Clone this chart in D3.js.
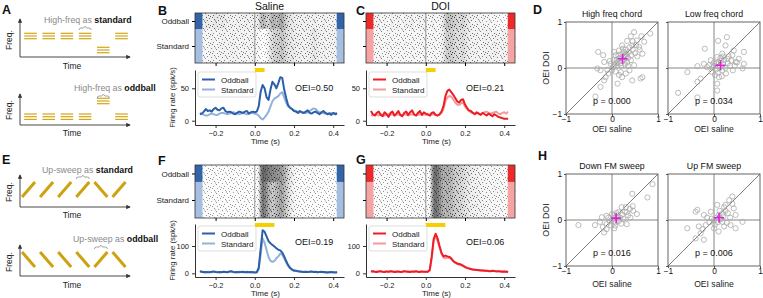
<!DOCTYPE html>
<html><head><meta charset="utf-8">
<script src="https://cdn.jsdelivr.net/npm/d3@7"></script>
<style>
body{margin:0;background:#fff;}
svg{display:block;font-family:"Liberation Sans",Arial,Helvetica,sans-serif;}
</style></head><body>
<svg id="fig" width="763" height="298"></svg>
<script>
// ---------------- DATA ----------------
const binStart = -0.28, binWidth = 0.01;   // PSTH bins (s)
const timeTicks = [-0.2, 0.0, 0.2, 0.4];
const conditions = ["Oddball", "Standard"];

// B: saline, chord
const salineChordOdd = [10,11,14,18,15,16,14,18,20,17, 16,19,20,15,13,14,13,11,10,12, 14,13,12,14,15,11,13,14, 13,
  14,22,45,55,50,36,32,48,60,56, 50,58,67,66,48,35,24,20,18,15, 14,12,15,13,12,14,16,12,11,13, 14,12,10,13,15,12,10,11,9,12,10,11];
const salineChordStd = [12,11,9,8,8,10,11,10,9,9, 11,12,12,11,10,11,12,13,12,11, 10,11,12,11,10,11,12,12, 11,
  10,8,4,2,5,9,14,22,30,34, 36,38,42,44,36,28,22,20,18,16, 15,14,13,13,12,12,13,15,17,19, 18,15,13,12,12,11,11,12,12,11,12,12];
// C: DOI, chord
const doiChordOdd = [15,10,8,12,14,9,7,13,10,6, 12,14,8,11,15,9,7,12,14,9, 13,16,10,8,12,15,9,13, 11,
  10,8,12,13,9,8,10,14,22,38, 46,48,44,40,35,30,28,32,33,25, 20,16,15,12,10,13,11,9,12,10, 8,11,9,7,10,8,6,5,4,3,3,3];
const doiChordStd = [9,8,10,9,8,10,9,8,9,10, 9,10,8,9,10,8,9,10,9,8, 9,10,9,8,9,10,9,10, 9,
  9,8,9,10,9,8,9,12,18,30, 36,38,37,33,28,25,24,27,28,22, 18,15,13,12,11,12,11,10,12,13, 14,12,11,12,13,14,11,10,12,13,11,14];
// F: saline, FM sweep
const salineSweepOdd = [8,6,4,5,4,4,6,7,5,4, 5,4,6,5,4,7,8,5,4,5, 4,5,6,4,5,4,5,4, 3,
  4,20,90,158,152,135,118,110,104,98, 92,86,84,76,62,45,30,20,14,10, 9,8,7,6,5,6,5,6,7,5, 6,4,5,6,5,4,3,4,5,4,3,4];
const salineSweepStd = [5,6,5,4,6,5,4,5,6,5, 4,5,5,6,4,5,6,5,4,5, 6,5,4,5,6,5,4,5, 4,
  4,15,70,128,112,85,60,46,42,45, 55,62,72,68,55,40,28,18,12,9, 8,7,6,6,5,6,5,5,6,5, 5,4,5,5,4,5,4,4,5,4,4,4];
// G: DOI, FM sweep
const doiSweepOdd = [7,8,6,5,7,8,6,5,7,6, 8,7,5,6,7,5,6,8,7,6, 5,7,6,8,6,5,7,6, 6,
  6,12,60,125,145,128,100,75,62,65, 62,60,55,45,40,36,34,32,28,24, 20,18,16,14,13,12,11,10,10,9, 9,8,8,9,8,7,8,7,6,7,6,5];
const doiSweepStd = [6,7,6,7,6,7,5,6,7,6, 7,6,6,7,6,6,5,7,6,7, 6,6,7,6,6,7,6,6, 6,
  6,10,55,118,135,120,95,72,58,55, 58,56,52,44,38,34,32,30,26,22, 19,17,15,14,13,12,12,11,10,10, 9,9,8,8,9,8,7,8,7,7,7,6];

// Stimulus duration (s) and OEI labels
const stimDur = {chord: 0.05, sweep: 0.1};
const oeiLabels = ["OEI=0.50", "OEI=0.21", "OEI=0.19", "OEI=0.06"];

// Scatter data: [OEI saline, OEI DOI]
const highChord = [[-0.30,0.35],[0.48,0.78],[0.83,0.75],[0.64,0.69],[0.41,0.69],[0.54,0.60],[0.33,0.59],[0.70,0.57],[0.22,0.49],[0.44,0.49],[0.59,0.46],[0.15,0.38],[0.37,0.35],[0.66,0.31],[0.08,0.28],[0.30,0.24],[0.15,0.20],[0.04,0.17],[0.41,0.17],[-0.17,0.13],[-0.03,0.09],[0.48,0.06],[0.12,0.06],[-0.32,-0.01],[-0.25,-0.05],[-0.10,-0.04],[0.19,-0.09],[0.30,-0.12],[-0.14,-0.20],[-0.17,-0.27],[0.12,-0.34],[0.44,-0.27],[0.66,-0.20],[0.62,-0.23],[-0.25,-0.41],[-0.36,-0.62],[-0.19,0.28],
  [0.20,0.30],[0.25,0.35],[0.28,0.28],[0.18,0.22],[0.22,0.15],[0.26,0.18],[0.32,0.30],[0.35,0.22],[0.12,0.12],[0.08,0.10],[0.02,0.02],[0.05,0.05],[0.10,0.18],[0.14,0.27],[0.24,0.42],[0.30,0.40],[0.38,0.45],[0.45,0.40],[0.50,0.32],[0.55,0.25],[0.42,0.28],[0.18,0.10],[0.28,0.08],[0.35,0.05],[0.00,-0.05],[0.08,-0.08],[0.15,-0.15],[0.22,-0.20],[-0.05,0.15],[0.05,0.35],[0.45,0.58],[0.52,0.50],[0.60,0.40],[0.20,0.05],[0.33,0.12],[0.26,0.25],[-0.08,-0.12],[0.38,-0.05]];
const lowChord = [[0.28,0.67],[0.09,0.59],[0.25,0.49],[-0.20,0.42],[0.43,0.38],[0.65,0.35],[0.18,0.31],[0.40,0.28],[0.07,0.24],[0.29,0.20],[0.54,0.20],[-0.07,0.17],[0.47,0.13],[0.65,0.09],[-0.36,0.04],[-0.22,0.09],[-0.11,0.06],[-0.58,-0.09],[0.62,-0.01],[0.41,-0.05],[0.26,-0.12],[0.11,-0.20],[-0.29,-0.23],[-0.36,-0.30],[0.07,-0.34],[0.07,-0.49],[-0.78,-0.54],[-0.36,-0.64],
  [0.00,0.05],[0.05,0.10],[0.10,0.12],[0.15,0.15],[0.20,0.08],[0.12,0.00],[0.05,-0.03],[-0.03,0.00],[0.00,0.12],[0.22,0.18],[0.30,0.10],[0.35,0.05],[0.18,-0.05],[0.08,-0.10],[-0.05,-0.08],[0.25,0.00],[0.14,0.22],[0.32,0.25],[0.20,0.25],[-0.15,0.02],[0.45,0.05],[0.50,0.12],[0.02,-0.15],[0.17,-0.18],[0.38,0.16]];
const downSweep = [[0.88,0.78],[0.77,0.49],[0.44,0.57],[0.21,0.28],[0.39,0.24],[0.46,0.20],[0.32,0.17],[0.54,0.13],[0.14,0.17],[0.00,0.13],[-0.12,0.09],[-0.22,0.06],[0.10,0.06],[0.25,0.02],[-0.73,-0.11],[-0.37,-0.11],[-0.26,-0.04],[-0.12,-0.09],[0.07,-0.12],[0.32,-0.09],[-0.17,-0.27],[-0.12,-0.20],
  [0.05,0.05],[0.12,0.10],[0.18,0.05],[0.00,0.00],[-0.05,-0.03],[0.08,-0.05],[0.15,-0.02],[-0.08,0.05],[0.03,0.10],[0.22,0.12],[0.28,0.18],[0.35,0.10],[0.40,0.05],[-0.02,-0.12],[0.10,0.15],[-0.20,-0.15],[0.05,-0.18],[0.20,-0.08],[0.30,0.28],[0.45,0.30]];
const upSweep = [[0.40,0.51],[0.33,0.43],[0.07,0.33],[-0.36,0.22],[0.25,0.33],[0.43,0.25],[-0.22,0.11],[-0.40,0.18],[-0.07,0.18],[0.18,0.14],[0.47,0.11],[-0.58,-0.18],[-0.33,-0.14],[-0.18,-0.11],[0.36,-0.11],[0.62,-0.04],[0.47,-0.18],[0.22,-0.14],[-0.29,-0.29],[-0.40,-0.40],[-0.22,-0.43],[0.00,-0.18],
  [0.05,0.05],[0.10,0.10],[0.15,0.02],[0.00,0.00],[-0.05,0.03],[0.08,-0.05],[0.20,0.08],[0.25,0.20],[0.30,0.15],[-0.10,-0.05],[0.12,0.20],[0.35,0.05],[0.18,-0.04],[-0.15,0.05],[0.02,-0.10],[0.28,-0.06],[0.40,0.35],[0.22,0.28],[-0.25,-0.20],[0.10,-0.25]];
const scatterMeans = [[0.23,0.20],[0.14,0.06],[0.09,0.04],[0.11,0.05]];
const scatterTitles = ["High freq chord", "Low freq chord", "Down FM sweep", "Up FM sweep"];
const pValues = ["p = 0.000", "p = 0.034", "p = 0.016", "p = 0.006"];
const oeiTicks = [-1, 0, 1];

// Schematic sequences
const chordSeqStd = ["high","high","high","high","low","high"];
const chordSeqOdd = ["low","low","low","low","high","low"];
const sweepSeqStd = ["up","up","up","up","down","up"];
const sweepSeqOdd = ["down","down","down","down","up","down"];

// ---------------- DRAWING ----------------
const svg = d3.select("#fig");
const GOLD = "#d4a514";
const BLUE = {odd:"#2c5fa8", std:"#92b2dc", barOdd:"#3164a8", barStd:"#a6bfe0"};
const RED = {odd:"#ee1c24", std:"#f59a9a", barOdd:"#ec2a2a", barStd:"#f6a3a3"};
const fmt = d3.format(".1f");

const defs = svg.append("defs");
defs.append("marker").attr("id","arr").attr("viewBox","0 0 6 6").attr("refX",5).attr("refY",3)
  .attr("markerWidth",5).attr("markerHeight",5).attr("orient","auto")
  .append("path").attr("d","M0,0L6,3L0,6Z").attr("fill","#333");
// speckle texture for raster rows (irregular dot tile)
const pat = defs.append("pattern").attr("id","speck").attr("patternUnits","userSpaceOnUse")
  .attr("width",11).attr("height",9);
[[0,0],[5,1],[9,2],[2,3],[7,4],[4,6],[10,6],[1,7],[8,8],[6,2.5],[3,8]].forEach(([px,py]) =>
  pat.append("rect").attr("x",px).attr("y",py).attr("width",1).attr("height",1).attr("fill","#333"));

// panel letters
[["A",2,14],["B",158,15],["C",356,15],["D",533,14],["E",2,164],["F",158,165],["G",356,164],["H",538,160]]
  .forEach(([t,x,y]) => svg.append("text").attr("x",x).attr("y",y).attr("font-size",12.5)
    .attr("font-weight","bold").attr("fill","#111").text(t));

// ---- schematic helper ----
function schematicAxes(axisY, topY, labelY, timeY) {
  svg.append("line").attr("x1",20).attr("y1",axisY).attr("x2",20).attr("y2",topY)
    .attr("stroke","#333").attr("stroke-width",0.9).attr("marker-end","url(#arr)");
  svg.append("line").attr("x1",20).attr("y1",axisY).attr("x2",130).attr("y2",axisY)
    .attr("stroke","#333").attr("stroke-width",0.9).attr("marker-end","url(#arr)");
  svg.append("text").attr("transform",`translate(12,${labelY}) rotate(-90)`).attr("text-anchor","middle")
    .attr("font-size",8.5).attr("fill","#222").text("Freq.");
  svg.append("text").attr("x",72).attr("y",timeY).attr("text-anchor","middle")
    .attr("font-size",8.5).attr("fill","#222").text("Time");
}
function schematicLabel(x, y, pre, bold) {
  const t = svg.append("text").attr("x",x).attr("y",y).attr("font-size",8.8);
  t.append("tspan").attr("fill","#8a8a8a").text(pre);
  t.append("tspan").attr("fill","#111").attr("font-weight","bold").text(bold);
}
function brace(xc, w, y) {
  const l = xc - w/2, r = xc + w/2;
  svg.append("path").attr("d",`M${l},${y+2}Q${l},${y} ${l+2},${y}L${xc-1.5},${y}L${xc},${y-1.8}L${xc+1.5},${y}L${r-2},${y}Q${r},${y} ${r},${y+2}`)
    .attr("fill","none").attr("stroke","#8a8a8a").attr("stroke-width",0.8);
}
const seqX = d3.scalePoint().domain(d3.range(6)).range([30.5, 121.5]);
function chordRow(seq, yHigh, yLow, oddIdx, braceY) {
  const fy = d3.scalePoint().domain(["high","low"]).range([yHigh, yLow]);
  seq.forEach((lvl, i) => {
    [-2.7, 0, 2.7].forEach(off => {
      svg.append("line").attr("x1",seqX(i)-6.3).attr("x2",seqX(i)+6.3)
        .attr("y1",fy(lvl)+off).attr("y2",fy(lvl)+off).attr("stroke",GOLD).attr("stroke-width",1.2);
    });
  });
  brace(seqX(oddIdx), 12, braceY);
}
const sweepX = d3.scalePoint().domain(d3.range(6)).range([28.5, 119]);
function sweepRow(seq, yTop, yBot, braceIdx, braceY) {
  const fy = d3.scaleLinear().domain([0,1]).range([yBot, yTop]);
  seq.forEach((dir, i) => {
    const a = dir === "up" ? 0 : 1, b = 1 - a;
    svg.append("line").attr("x1",sweepX(i)-6.5).attr("x2",sweepX(i)+6.5)
      .attr("y1",fy(a)).attr("y2",fy(b)).attr("stroke","#cda20f").attr("stroke-width",3);
  });
  brace(sweepX(braceIdx), 13, braceY);
}
// A
schematicLabel(44, 23, "High-freq as ", "standard");
chordRow(chordSeqStd, 36, 50, 3, 28);
schematicAxes(57, 19, 40, 69);
schematicLabel(74, 91, "High-freq as ", "oddball");
chordRow(chordSeqOdd, 101, 116.7, 4, 96);
schematicAxes(125, 94, 110, 136);
// E
schematicLabel(42, 173, "Up-sweep as ", "standard");
sweepRow(sweepSeqStd, 182, 197, 3, 177);
schematicAxes(207, 175, 192, 218);
schematicLabel(73, 242, "Up-sweep as ", "oddball");
sweepRow(sweepSeqOdd, 252, 267, 4, 247);
schematicAxes(276, 245, 262, 288);

// ---- raster + PSTH panel ----
function neuronPanel(c) {
  const x = d3.scaleLinear().domain([-0.305, 0.455]).range([c.x0, c.x1]);
  const n = c.odd.length;
  const tOf = i => binStart + i*binWidth;
  const rMid = c.rTop + 0.32*(c.rBot - c.rTop);
  const g = svg.append("g");
  const dens = r => 1 - Math.exp(-r/85);
  const xl = i => i===0 ? c.x0 : x(tOf(i)-binWidth/2);
  const xr = i => i===n-1 ? c.x1 : x(tOf(i)+binWidth/2);
  // raster density: soft gray plus speckle texture, both driven by firing rate
  [[c.odd, c.rTop, rMid], [c.std, rMid, c.rBot]].forEach(([arr, y0, y1]) => {
    g.selectAll(null).data(arr).join("rect")
      .attr("x",(d,i) => xl(i)).attr("width",(d,i) => xr(i)-xl(i)+0.3)
      .attr("y",y0).attr("height",y1-y0)
      .attr("fill","#1a1a1a").attr("fill-opacity",d => 0.8*Math.pow(dens(d),1.35));
    g.selectAll(null).data(arr).join("rect")
      .attr("x",(d,i) => xl(i)).attr("width",(d,i) => xr(i)-xl(i)+0.3)
      .attr("y",y0).attr("height",y1-y0)
      .attr("fill","url(#speck)").attr("fill-opacity",d => Math.min(1, 0.35 + 2*dens(d)));
  });
  // side color bars
  [[-0.305,-0.267],[0.418,0.455]].forEach(([a,b]) => {
    g.append("rect").attr("x",x(a)).attr("width",x(b)-x(a)).attr("y",c.rTop).attr("height",rMid-c.rTop).attr("fill",c.col.barOdd);
    g.append("rect").attr("x",x(a)).attr("width",x(b)-x(a)).attr("y",rMid).attr("height",c.rBot-rMid).attr("fill",c.col.barStd);
  });
  g.append("line").attr("x1",x(0)).attr("x2",x(0)).attr("y1",c.rTop).attr("y2",c.rBot).attr("stroke","#999").attr("stroke-width",1);
  g.append("rect").attr("x",c.x0).attr("y",c.rTop).attr("width",c.x1-c.x0).attr("height",c.rBot-c.rTop)
    .attr("fill","none").attr("stroke","#333").attr("stroke-width",0.8);
  // raster ticks
  const rowY = d3.scaleOrdinal().domain(conditions).range([(c.rTop+rMid)/2, (rMid+c.rBot)/2]);
  const ry = g.append("g").attr("transform",`translate(${c.x0},0)`)
    .call(d3.axisLeft(rowY).tickSize(3).tickFormat(c.showLabels ? d => d : ""));
  ry.select(".domain").remove();
  ry.selectAll("text").attr("font-size",8).attr("fill","#222").attr("font-family",null);
  const rx = g.append("g").attr("transform",`translate(0,${c.rBot})`)
    .call(d3.axisBottom(x).tickValues(timeTicks).tickSize(3).tickFormat(""));
  rx.select(".domain").remove();
  // stimulus bar
  g.append("rect").attr("x",x(0)).attr("width",x(c.stim)-x(0)).attr("y",c.rBot+5).attr("height",4).attr("fill","#f5d000");
  // PSTH
  const y = d3.scaleLinear().domain(c.yDom).range([c.pBot, c.pTop]);
  const line = d3.line().x((d,i) => x(tOf(i))).y(d => y(d)).curve(d3.curveLinear);
  g.append("path").datum(c.std).attr("d",line).attr("fill","none").attr("stroke",c.col.std).attr("stroke-width",2).attr("stroke-linejoin","round");
  g.append("path").datum(c.odd).attr("d",line).attr("fill","none").attr("stroke",c.col.odd).attr("stroke-width",2).attr("stroke-linejoin","round");
  const ay = g.append("g").attr("transform",`translate(${c.x0},0)`)
    .call(d3.axisLeft(y).tickValues(c.yTicks).tickSize(3).tickSizeOuter(0));
  const ax = g.append("g").attr("transform",`translate(0,${c.pBot})`)
    .call(d3.axisBottom(x).tickValues(timeTicks).tickFormat(fmt).tickSize(3).tickSizeOuter(0));
  [ay, ax].forEach(a => {
    a.selectAll("text").attr("font-size",7.5).attr("fill","#222").attr("font-family",null);
    a.selectAll("line,path").attr("stroke","#333");
  });
  g.append("text").attr("x",(c.x0+c.x1)/2 - 4).attr("y",c.pBot+19).attr("text-anchor","middle")
    .attr("font-size",8).attr("fill","#222").text("Time (s)");
  if (c.showLabels) {
    g.append("text").attr("transform",`translate(${c.x0-20},${(c.pTop+c.pBot)/2}) rotate(-90)`)
      .attr("text-anchor","middle").attr("font-size",7.8).attr("fill","#222").text("Firing rate (spk/s)");
  }
  if (c.title) g.append("text").attr("x",(c.x0+c.x1)/2).attr("y",c.rTop-3).attr("text-anchor","middle")
    .attr("font-size",10.5).attr("fill","#111").text(c.title);
  // legend
  const lg = g.append("g").attr("transform",`translate(${c.x0+3},${c.pTop+2})`);
  lg.append("rect").attr("width",58).attr("height",25).attr("rx",2).attr("fill","#fff").attr("fill-opacity",0.85)
    .attr("stroke","#d0d0d0").attr("stroke-width",0.7);
  [[conditions[0], c.col.odd],[conditions[1], c.col.std]].forEach(([lab,col],k) => {
    lg.append("line").attr("x1",4).attr("x2",17).attr("y1",7.5+k*10).attr("y2",7.5+k*10).attr("stroke",col).attr("stroke-width",2);
    lg.append("text").attr("x",23).attr("y",10.5+k*10).attr("font-size",8).attr("fill","#222").text(lab);
  });
  g.append("text").attr("x",c.x0+100).attr("y",c.pTop+21).attr("font-size",9).attr("fill","#111").text(c.oei);
}

neuronPanel({x0:195,x1:344,rTop:13,rBot:63,pTop:70,pBot:125,yDom:[-6.6,78.2],yTicks:[0,50],odd:salineChordOdd,std:salineChordStd,col:BLUE,stim:stimDur.chord,oei:oeiLabels[0],showLabels:true,title:"Saline"});
neuronPanel({x0:366,x1:515,rTop:13,rBot:63,pTop:70,pBot:125,yDom:[-6.6,78.2],yTicks:[0,50],odd:doiChordOdd,std:doiChordStd,col:RED,stim:stimDur.chord,oei:oeiLabels[1],showLabels:false,title:"DOI"});
neuronPanel({x0:195,x1:344,rTop:165,rBot:218,pTop:224,pBot:277,yDom:[-13.5,180.6],yTicks:[0,100],odd:salineSweepOdd,std:salineSweepStd,col:BLUE,stim:stimDur.sweep,oei:oeiLabels[2],showLabels:true});
neuronPanel({x0:366,x1:515,rTop:165,rBot:218,pTop:224,pBot:277,yDom:[-13.5,180.6],yTicks:[0,100],odd:doiSweepOdd,std:doiSweepStd,col:RED,stim:stimDur.sweep,oei:oeiLabels[3],showLabels:false});

// ---- scatter panels ----
function scatterPanel(x0, y0, pts, mean, title, ptxt, showY, xlabOff) {
  const S = 92;
  const x = d3.scaleLinear().domain([-1,1]).range([x0, x0+S]);
  const y = d3.scaleLinear().domain([-1,1]).range([y0+S, y0]);
  const g = svg.append("g");
  g.append("line").attr("x1",x(0)).attr("x2",x(0)).attr("y1",y(-1)).attr("y2",y(1)).attr("stroke","#666").attr("stroke-width",0.8);
  g.append("line").attr("x1",x(-1)).attr("x2",x(1)).attr("y1",y(0)).attr("y2",y(0)).attr("stroke","#666").attr("stroke-width",0.8);
  g.append("line").attr("x1",x(-1)).attr("x2",x(1)).attr("y1",y(-1)).attr("y2",y(1)).attr("stroke","#222").attr("stroke-width",0.6);
  g.selectAll(null).data(pts).join("circle").attr("cx",d => x(d[0])).attr("cy",d => y(d[1])).attr("r",2.6)
    .attr("fill","none").attr("stroke","#ababab").attr("stroke-width",0.8);
  g.append("text").attr("x",x(0)).attr("y",y(-0.78)).attr("text-anchor","middle").attr("font-size",9).attr("fill","#111").text(ptxt);
  const mx = x(mean[0]), my = y(mean[1]);
  g.append("path").attr("d",`M${mx-5},${my}H${mx+5}M${mx},${my-5}V${my+5}`).attr("stroke","#e020d8").attr("stroke-width",1.6);
  g.append("rect").attr("x",x0).attr("y",y0).attr("width",S).attr("height",S).attr("fill","none").attr("stroke","#555").attr("stroke-width",0.9);
  const ax = g.append("g").attr("transform",`translate(0,${y0+S})`)
    .call(d3.axisBottom(x).tickValues(oeiTicks).tickSize(2).tickPadding(0).tickFormat(d3.format("d")));
  ax.select(".domain").remove();
  const ay = g.append("g").attr("transform",`translate(${x0},0)`)
    .call(d3.axisLeft(y).tickValues(oeiTicks).tickSize(2).tickPadding(2).tickFormat(showY ? d3.format("d") : ""));
  ay.select(".domain").remove();
  [ax, ay].forEach(a => { a.selectAll("text").attr("font-size",8.3).attr("fill","#111").attr("font-family",null); a.selectAll("line").attr("stroke","#555"); });
  g.append("text").attr("x",x0+S/2).attr("y",y0-5).attr("text-anchor","middle").attr("font-size",8.8).attr("fill","#111").text(title);
  g.append("text").attr("x",x0+S/2).attr("y",y0+S+xlabOff).attr("text-anchor","middle").attr("font-size",8.6).attr("fill","#222").text("OEI saline");
  if (showY) g.append("text").attr("transform",`translate(${x0-17},${y0+S/2}) rotate(-90)`).attr("text-anchor","middle")
    .attr("font-size",8.8).attr("fill","#222").text("OEI DOI");
}
scatterPanel(566, 22, highChord, scatterMeans[0], scatterTitles[0], pValues[0], true, 18);
scatterPanel(668, 22, lowChord, scatterMeans[1], scatterTitles[1], pValues[1], false, 18);
scatterPanel(566, 174, downSweep, scatterMeans[2], scatterTitles[2], pValues[2], true, 21);
scatterPanel(668, 174, upSweep, scatterMeans[3], scatterTitles[3], pValues[3], false, 21);
</script></body></html>
